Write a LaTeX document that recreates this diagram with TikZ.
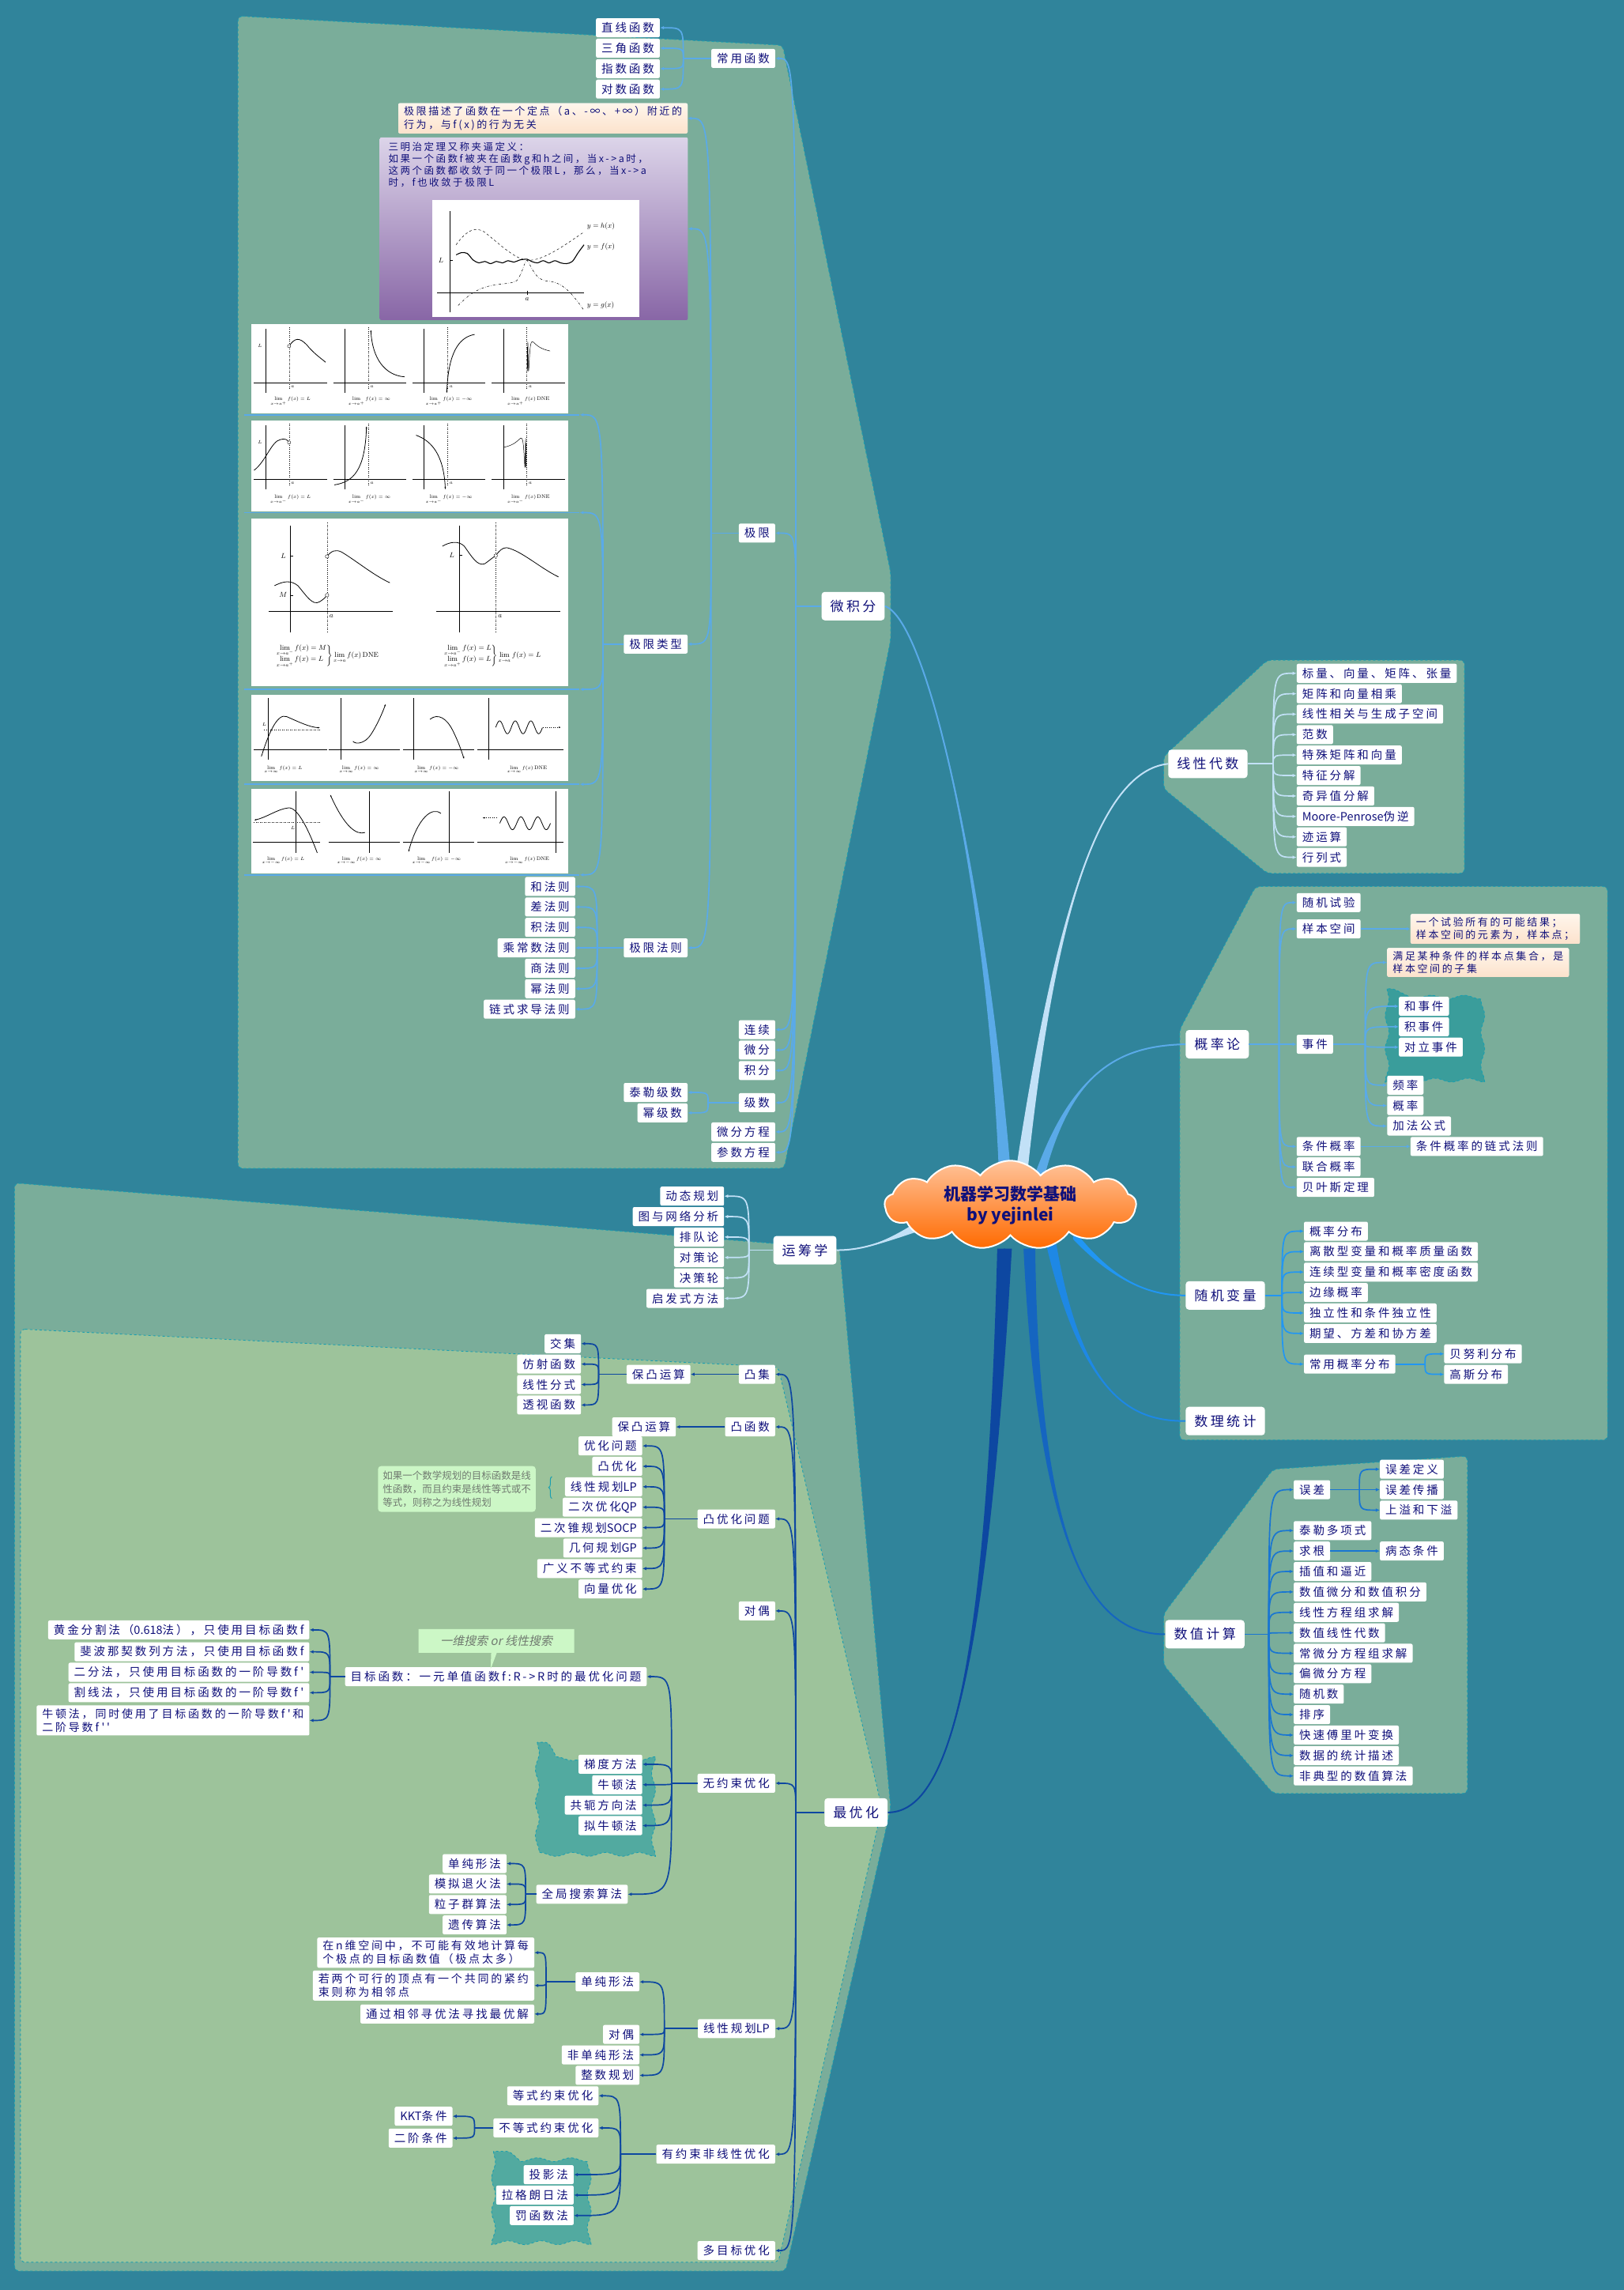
\documentclass[tikz,border=0pt]{standalone}
\usepackage{fontspec}
\usepackage{amsmath}
\usetikzlibrary{arrows.meta,calc,shapes.symbols,shapes.callouts,decorations.pathmorphing,decorations.pathreplacing}
\newfontfamily\cjk[LetterSpace=20]{Noto Sans CJK SC}
\newfontfamily\cjkplain{Noto Sans CJK SC}
\newfontfamily\cjkslant[FakeSlant=0.2]{Noto Sans CJK SC}

\definecolor{sea}{HTML}{30849B}
\definecolor{sage}{HTML}{7AAD9A}
\definecolor{mint}{HTML}{9DC39B}
\definecolor{rim}{HTML}{1A9FB0}
\definecolor{ink}{HTML}{10107A}
\definecolor{sky}{HTML}{5AAAE8}
\definecolor{ice}{HTML}{C2E1F7}
\definecolor{azure}{HTML}{2196F3}
\definecolor{statblue}{HTML}{1E88E5}
\definecolor{royal}{HTML}{1976D2}
\definecolor{cobalt}{HTML}{1565C0}
\definecolor{navy2}{HTML}{0D47A1}
\definecolor{blobteal}{HTML}{52AAA0}
\definecolor{blobdark}{HTML}{3A9D9B}
\definecolor{peachtop}{HTML}{FFF6EC}
\definecolor{peach}{HTML}{FCE2CC}
\definecolor{lilac}{HTML}{DCD4E9}
\definecolor{plum}{HTML}{8866A6}
\definecolor{lime}{HTML}{CCF7C6}
\definecolor{hintgray}{HTML}{707A70}
\definecolor{cloudtop}{HTML}{FFC39A}
\definecolor{cloudbot}{HTML}{FF6A00}

\pgfdeclarelayer{panel}
\pgfdeclarelayer{links}
\pgfsetlayers{panel,links,main}

\tikzset{
  topic/.style={fill=white, rounded corners=2pt, text=ink, inner xsep=7pt, inner ysep=1pt,
    minimum height=24pt, font=\cjk\fontsize{14.5}{16}\selectfont},
  major/.style={topic, minimum height=36pt, inner xsep=11pt, rounded corners=4pt,
    font=\cjk\fontsize{17}{19}\selectfont},
  memo/.style={topic, align=left, top color=peachtop, bottom color=peach, inner ysep=4pt,
    font=\cjk\fontsize{13}{16.5}\selectfont},
  para/.style={topic, align=left, inner ysep=4pt, font=\cjk\fontsize{14}{17}\selectfont},
  hint/.style={fill=lime, rounded corners=4pt, text=hintgray, align=left, inner sep=6pt,
    font=\cjkplain\fontsize{12.5}{17}\selectfont},
  area/.style={draw=rim, dashed, line width=0.9pt, rounded corners=6pt},
  blob/.style={fill=#1, draw=rim, dashed, line width=0.9pt, decorate,
    decoration={snake, amplitude=2.5pt, segment length=42pt}},
  headed/.style={-{Latex[length=5pt,width=4.5pt]}},
  wire/.style={draw=#1, line width=1.7pt},
  ax/.style={line width=0.5pt},
  crv/.style={line width=0.8pt},
  dots/.style={dotted, line width=0.5pt},
  limtxt/.style={font=\fontsize{6.5}{7}\selectfont, inner sep=0pt},
}

% parent -> fork -> children
\newcommand\fan[4]{%
  \draw[wire=#1] (#2) -- (#3);
  \foreach \kid in {#4}{%
    \path (\kid) coordinate (kid);
    \draw[wire=#1, headed] (#3) .. controls (#3 |- kid) .. (kid);
  }}
% tapered main branch
\newcommand\bough[6]{%
  \fill[#1] ($(#2)+(#6)$) .. controls (#3) and (#4) .. (#5) .. controls (#4) and (#3) .. ($(#2)-(#6)$) -- cycle;
  \draw[#1, line width=2pt] (#2) .. controls (#3) and (#4) .. (#5);}

\begin{document}
\begin{tikzpicture}[x=1.847pt, y=-1.847pt]
\useasboundingbox (0,0) rectangle (1112,1568);

\begin{pgfonlayer}{panel}
  \fill[sea] (0,0) rectangle (1112,1568);
  % calculus
  \filldraw[area, fill=sage] (163,11) -- (536,31) -- (610,392) -- (610,438) -- (537,800) -- (163,800) -- cycle;
  % linear algebra
  \filldraw[area, fill=sage] (797,518) -- (868,452) -- (1003,452) -- (1003,598) -- (868,598) -- (797,540) -- cycle;
  % probability
  \filldraw[area, fill=sage] (808,705) -- (860,607) -- (1101,607) -- (1101,986) -- (808,986) -- cycle;
  % numerical
  \filldraw[area, fill=sage] (797,1105) -- (872,1006) -- (1005,997) -- (1005,1228) -- (872,1228) -- (797,1140) -- cycle;
  % operations research + optimisation
  \filldraw[area, fill=sage] (10,810) -- (575,855) -- (610,1238) -- (538,1555) -- (10,1555) -- cycle;
  \filldraw[area, fill=mint] (14,910) -- (533,936) -- (604,1238) -- (533,1549) -- (14,1549) -- cycle;
\end{pgfonlayer}

%% limit graphs
\begin{scope}[shift={(172,222)}]
  \fill[white] (0,0) rectangle (217,61);
  \foreach \o in {0,54.25,108.5,162.75}{
    \draw[ax] (\o+10,3) -- (\o+10,47);
    \draw[ax] (\o+2,40) -- (\o+52,40);
    \draw[dots] (\o+26,2) -- (\o+26,45);
    \node[limtxt] at (\o+28.5,43) {$a$};}
  \draw[crv] (26,15) .. controls (30,9) and (33,9) .. (38,14) .. controls (42,19) and (46,22) .. (51,26);
  \draw[fill=white, line width=0.4pt] (26,15) circle (1.1);
  \node[limtxt] at (6,15) {$L$};
  \draw[crv, -{Stealth[length=2.5pt]}] (105,36) .. controls (92,35) and (83,24) .. (82,4);
  \draw[crv, -{Stealth[length=2.5pt]}] (153,7) .. controls (142,9) and (135,20) .. (134,47);
  \draw[line width=0.5pt, domain=0.4:16, samples=220] plot ({188.75+\x}, {22-10*sin(deg(6/\x))});
  \node[limtxt] at (27,53) {$\lim\limits_{x\to a^+} f(x)=L$};
  \node[limtxt] at (81,53) {$\lim\limits_{x\to a^+} f(x)=\infty$};
  \node[limtxt] at (135.5,53) {$\lim\limits_{x\to a^+} f(x)=-\infty$};
  \node[limtxt] at (190,53) {$\lim\limits_{x\to a^+} f(x)\,\mathrm{DNE}$};
\end{scope}
\begin{scope}[shift={(172,288)}]
  \fill[white] (0,0) rectangle (217,62);
  \foreach \o in {0,54.25,108.5,162.75}{
    \draw[ax] (\o+10,3) -- (\o+10,47);
    \draw[ax] (\o+2,40) -- (\o+52,40);
    \draw[dots] (\o+26,2) -- (\o+26,45);
    \node[limtxt] at (\o+28.5,43) {$a$};}
  \draw[crv] (2,34) .. controls (10,28) and (14,14) .. (20,13) .. controls (23,12) and (25,13) .. (26,15);
  \draw[fill=white, line width=0.4pt] (26,15) circle (1.1);
  \node[limtxt] at (6,15) {$L$};
  \draw[crv, -{Stealth[length=2.5pt]}] (57,44) .. controls (70,42) and (78,34) .. (79,4);
  \draw[crv, -{Stealth[length=2.5pt]}] (113,10) .. controls (124,14) and (132,24) .. (133,47);
  \draw[line width=0.5pt, domain=0.4:16, samples=220] plot ({188.75-\x}, {22-10*sin(deg(6/\x))});
  \node[limtxt] at (27,54) {$\lim\limits_{x\to a^-} f(x)=L$};
  \node[limtxt] at (81,54) {$\lim\limits_{x\to a^-} f(x)=\infty$};
  \node[limtxt] at (135.5,54) {$\lim\limits_{x\to a^-} f(x)=-\infty$};
  \node[limtxt] at (190,54) {$\lim\limits_{x\to a^-} f(x)\,\mathrm{DNE}$};
\end{scope}
\begin{scope}[shift={(172,355)}]
  \fill[white] (0,0) rectangle (217,115);
  \draw[ax] (27,5) -- (27,78); \draw[ax] (12,63.75) -- (97,63.75); \draw[dots] (52,3) -- (52,78);
  \draw[ax] (27,25.75) -- (29,25.75); \draw[ax] (27,52.5) -- (29,52.5);
  \node[limtxt, font=\fontsize{9}{10}\selectfont] at (22,25.75) {$L$};
  \node[limtxt, font=\fontsize{9}{10}\selectfont] at (22,52.5) {$M$};
  \node[limtxt, font=\fontsize{9}{10}\selectfont] at (55,67) {$a$};
  \draw[crv] (52,26) .. controls (55,22) and (58,21) .. (62,23) .. controls (72,29) and (84,39) .. (95,44);
  \draw[crv] (16,46) .. controls (22,43) and (27,42) .. (32,46) .. controls (38,53) and (42,60) .. (47,57) .. controls (50,55) and (51,54) .. (52,52.5);
  \draw[fill=white, line width=0.4pt] (52,26) circle (1.2) (52,52.5) circle (1.2);
  \node[font=\fontsize{9}{10}\selectfont, inner sep=0pt] at (52,94) {$\left.\begin{array}{@{}l@{}}\lim\limits_{x\to a^-} f(x)=M\\[1pt]\lim\limits_{x\to a^+} f(x)=L\end{array}\right\}\lim\limits_{x\to a} f(x)\,\mathrm{DNE}$};
  \draw[ax] (142.5,5) -- (142.5,78); \draw[ax] (127,63.75) -- (212,63.75); \draw[dots] (167.5,3) -- (167.5,78);
  \draw[ax] (142.5,25) -- (144.5,25);
  \node[limtxt, font=\fontsize{9}{10}\selectfont] at (137.5,25) {$L$};
  \node[limtxt, font=\fontsize{9}{10}\selectfont] at (170.5,67) {$a$};
  \draw[crv] (131,19) .. controls (136,16) and (142,15) .. (146,19) .. controls (151,26) and (155,33) .. (160,31) .. controls (163,29) and (165,27) .. (167.5,25.5) .. controls (170,22) and (172,20) .. (175,20) .. controls (185,22) and (198,34) .. (210.5,40);
  \draw[fill=white, line width=0.4pt] (167.5,25.5) circle (1.2);
  \node[font=\fontsize{9}{10}\selectfont, inner sep=0pt] at (165,94) {$\left.\begin{array}{@{}l@{}}\lim\limits_{x\to a^-} f(x)=L\\[1pt]\lim\limits_{x\to a^+} f(x)=L\end{array}\right\}\lim\limits_{x\to a} f(x)=L$};
\end{scope}
\begin{scope}[shift={(172,476)}]
  \fill[white] (0,0) rectangle (217,59);
  \draw[ax] (11.4,2) -- (11.4,44); \draw[ax] (2,37.5) -- (52,37.5);
  \draw[dots] (9,23.5) -- (48,23.5);
  \node[limtxt] at (9,20) {$L$};
  \draw[crv, -{Stealth[length=2.5pt]}] (7,42) .. controls (12,26) and (18,12) .. (24.4,14.7) .. controls (32,18) and (40,22) .. (47,22.3);
  \draw[ax] (61.4,2) -- (61.4,44); \draw[ax] (53,37.5) -- (102,37.5);
  \draw[crv, -{Stealth[length=2.5pt]}] (69.7,31.6) .. controls (72,34) and (78,33) .. (82,27) .. controls (86,21) and (90,12) .. (92,6.3);
  \draw[ax] (111.4,2) -- (111.4,44); \draw[ax] (104,37.5) -- (153,37.5);
  \draw[crv, -{Stealth[length=2.5pt]}] (122.5,16.5) .. controls (128,12) and (134,16) .. (138,24) .. controls (142,32) and (144,38) .. (145.8,43.5);
  \draw[ax] (162.5,2) -- (162.5,44); \draw[ax] (155,37.5) -- (214,37.5);
  \draw[crv, domain=0:32, samples=80] plot ({167.5+\x}, {22-4.4*sin(\x*360/10.7)});
  \draw[dots, -{Stealth[length=2.5pt]}] (200,22) -- (212,22);
  \node[limtxt] at (22,51) {$\lim\limits_{x\to\infty} f(x)=L$};
  \node[limtxt] at (74,51) {$\lim\limits_{x\to\infty} f(x)=\infty$};
  \node[limtxt] at (127,51) {$\lim\limits_{x\to\infty} f(x)=-\infty$};
  \node[limtxt] at (189,51) {$\lim\limits_{x\to\infty} f(x)\,\mathrm{DNE}$};
\end{scope}
\begin{scope}[shift={(172,540)}]
  \fill[white] (0,0) rectangle (217,58);
  \draw[ax] (30.8,2) -- (30.8,44); \draw[ax] (1,36.4) -- (47,36.4);
  \draw[dots] (2,23) -- (47,23);
  \node[limtxt] at (28.6,27) {$L$};
  \draw[crv, -{Stealth[length=2.5pt]}] (45.3,44) .. controls (40,30) and (32,12) .. (25.3,13.2) .. controls (18,14) and (10,20) .. (2.2,21.5);
  \draw[ax] (80.8,2) -- (80.8,44); \draw[ax] (53,36.4) -- (102,36.4);
  \draw[crv, -{Stealth[length=2.5pt]}] (78,30) .. controls (72,32) and (64,26) .. (54.2,4.2);
  \draw[ax] (135.6,2) -- (135.6,44); \draw[ax] (104,36.4) -- (153,36.4);
  \draw[crv, -{Stealth[length=2.5pt]}] (130,17) .. controls (124,12) and (114,20) .. (107.8,43.2);
  \draw[ax] (208.6,2) -- (208.6,44); \draw[ax] (155,36.4) -- (214,36.4);
  \draw[crv, domain=0:34.7, samples=80] plot ({170.3+\x}, {23.7-4.4*sin(\x*360/11.57)});
  \draw[dots, -{Stealth[length=2.5pt]}] (168,20) -- (158.6,20);
  \node[limtxt] at (22,49.4) {$\lim\limits_{x\to-\infty} f(x)=L$};
  \node[limtxt] at (74,49.4) {$\lim\limits_{x\to-\infty} f(x)=\infty$};
  \node[limtxt] at (127,49.4) {$\lim\limits_{x\to-\infty} f(x)=-\infty$};
  \node[limtxt] at (189,49.4) {$\lim\limits_{x\to-\infty} f(x)\,\mathrm{DNE}$};
\end{scope}
\foreach \y/\n in {284/r1,351/r2,472/r3,537/r4,599/r5}{
  \draw[wire=sky] (167,\y) -- (397,\y);
  \coordinate (\n) at (397,\y);}

%% calculus
\node[major, anchor=east] (calc) at (606,415) {微积分};
\coordinate (kC) at (545,415);
\node[topic, anchor=east] (cfun) at (531,40) {常用函数};
\node[topic, anchor=east] (lim) at (531,365) {极限};
\node[topic, anchor=east] (cont) at (531,705) {连续};
\node[topic, anchor=east] (diff) at (531,719) {微分};
\node[topic, anchor=east] (integ) at (531,733) {积分};
\node[topic, anchor=east] (series) at (531,755) {级数};
\node[topic, anchor=east] (ode) at (531,775) {微分方程};
\node[topic, anchor=east] (param) at (531,789) {参数方程};

\coordinate (kF) at (468,40);
\node[topic, anchor=east] (fline) at (452,19) {直线函数};
\node[topic, anchor=east] (ftrig) at (452,33) {三角函数};
\node[topic, anchor=east] (fexp) at (452,47) {指数函数};
\node[topic, anchor=east] (flog) at (452,61) {对数函数};

\coordinate (kL) at (487,365);
\node[memo, anchor=east] (limdef) at (471,81) {极限描述了函数在一个定点（a、-∞、+∞）附近的\\行为，与f(x)的行为无关};
\node[anchor=north west, minimum width=389.7pt, minimum height=230.9pt, top color=lilac, bottom color=plum,
  rounded corners=2pt, inner sep=0pt] (squeeze) at (260,94) {};
\node[anchor=north west, text=ink, align=left, inner sep=0pt, font=\cjk\fontsize{12.5}{15}\selectfont] (sqtext) at (266,97.5)
  {三明治定理又称夹逼定义：\\如果一个函数f被夹在函数g和h之间，当x->a时，\\这两个函数都收敛于同一个极限L，那么，当x->a\\时，f也收敛于极限L};
\begin{scope}[shift={(296,137)}]
  \fill[white] (0,0) rectangle (142,80);
  \draw[ax] (12,7.6) -- (12,76.6); \draw[ax] (3.4,63.4) -- (104,63.4);
  \draw[ax] (65,62) -- (65,65); \draw[ax] (12,41.2) -- (14,41.2);
  \node[limtxt, font=\fontsize{9}{10}\selectfont] at (65,68) {$a$};
  \node[limtxt, font=\fontsize{9}{10}\selectfont] at (6,41.2) {$L$};
  \draw[dashed, line width=0.5pt] (16.4,30.6) .. controls (24,20) and (30,18) .. (36,22) .. controls (46,30) and (56,40) .. (65,41.2) .. controls (76,42) and (92,30) .. (104,21.8);
  \draw[line width=1.1pt] plot[smooth] coordinates {(16.4,37.5) (20,36) (24,36.5) (28,41) (32,43) (36,42) (40,43.5) (44,42) (48,43) (52,41.5) (56,42.5) (60,41) (65,40.5) (68,42) (72,43) (76,41.5) (80,43) (84,41.5) (88,43) (92,43.5) (96,42) (100,36) (104,30.6)};
  \draw[dash dot, line width=0.5pt] (17.8,72.2) .. controls (24,66) and (30,60) .. (43.6,58) .. controls (50,57) and (56,57) .. (58,55) .. controls (62,50) and (63,42) .. (65,41.2) .. controls (68,45) and (70,54) .. (78,55.4) .. controls (86,56) and (92,58) .. (104,75.6);
  \node[limtxt, font=\fontsize{9}{10}\selectfont, anchor=west] at (106,18) {$y=h(x)$};
  \node[limtxt, font=\fontsize{9}{10}\selectfont, anchor=west] at (106,32) {$y=f(x)$};
  \node[limtxt, font=\fontsize{9}{10}\selectfont, anchor=west] at (106,72) {$y=g(x)$};
\end{scope}
\node[topic, anchor=east] (ltype) at (471,441) {极限类型};
\node[topic, anchor=east] (lrule) at (471,649) {极限法则};
\coordinate (kT) at (413,441);
\coordinate (kR) at (409,649);
\node[topic, anchor=east] (ru1) at (394,607) {和法则};
\node[topic, anchor=east] (ru2) at (394,621) {差法则};
\node[topic, anchor=east] (ru3) at (394,635) {积法则};
\node[topic, anchor=east] (ru4) at (394,649) {乘常数法则};
\node[topic, anchor=east] (ru5) at (394,663) {商法则};
\node[topic, anchor=east] (ru6) at (394,677) {幂法则};
\node[topic, anchor=east] (ru7) at (394,691) {链式求导法则};
\coordinate (kS) at (485,755);
\node[topic, anchor=east] (taylor) at (471,748) {泰勒级数};
\node[topic, anchor=east] (power) at (471,762) {幂级数};

%% linear algebra
\node[major, anchor=west] (linalg) at (800,523) {线性代数};
\coordinate (kA) at (872,523);
\node[topic, anchor=west] (la1) at (888,461) {标量、向量、矩阵、张量};
\node[topic, anchor=west] (la2) at (888,475) {矩阵和向量相乘};
\node[topic, anchor=west] (la3) at (888,489) {线性相关与生成子空间};
\node[topic, anchor=west] (la4) at (888,503) {范数};
\node[topic, anchor=west] (la5) at (888,517) {特殊矩阵和向量};
\node[topic, anchor=west] (la6) at (888,531) {特征分解};
\node[topic, anchor=west] (la7) at (888,545) {奇异值分解};
\node[topic, anchor=west] (la8) at (888,559) {{\cjkplain Moore-Penrose}伪逆};
\node[topic, anchor=west] (la9) at (888,573) {迹运算};
\node[topic, anchor=west] (la10) at (888,587) {行列式};

%% probability
\node[major, anchor=west] (prob) at (812,715) {概率论};
\coordinate (kP) at (876,715);
\node[topic, anchor=west] (pr1) at (888,618) {随机试验};
\node[topic, anchor=west] (pr2) at (888,636) {样本空间};
\node[topic, anchor=west] (pr3) at (888,715) {事件};
\node[topic, anchor=west] (pr4) at (888,785) {条件概率};
\node[topic, anchor=west] (pr5) at (888,799) {联合概率};
\node[topic, anchor=west] (pr6) at (888,813) {贝叶斯定理};
\node[memo, anchor=west] (sdef) at (966,636) {一个试验所有的可能结果；\\样本空间的元素为，样本点；};
\coordinate (kE) at (935,715);
\path[blob=blobdark] (950,677) rectangle (1016,733);
\node[memo, anchor=west] (evdef) at (950,659) {满足某种条件的样本点集合，是\\样本空间的子集};
\node[topic, anchor=west] (ev1) at (958,689) {和事件};
\node[topic, anchor=west] (ev2) at (958,703) {积事件};
\node[topic, anchor=west] (ev3) at (958,717) {对立事件};
\node[topic, anchor=west] (ev4) at (950,743) {频率};
\node[topic, anchor=west] (ev5) at (950,757) {概率};
\node[topic, anchor=west] (ev6) at (950,771) {加法公式};
\node[topic, anchor=west] (chain) at (966,785) {条件概率的链式法则};

%% random variables
\node[major, anchor=west] (rv) at (812,887) {随机变量};
\coordinate (kV) at (878,887);
\node[topic, anchor=west] (rv1) at (893,843) {概率分布};
\node[topic, anchor=west] (rv2) at (893,857) {离散型变量和概率质量函数};
\node[topic, anchor=west] (rv3) at (893,871) {连续型变量和概率密度函数};
\node[topic, anchor=west] (rv4) at (893,885) {边缘概率};
\node[topic, anchor=west] (rv5) at (893,899) {独立性和条件独立性};
\node[topic, anchor=west] (rv6) at (893,913) {期望、方差和协方差};
\node[topic, anchor=west] (rv7) at (893,934) {常用概率分布};
\coordinate (kD) at (976,934);
\node[topic, anchor=west] (bern) at (989,927) {贝努利分布};
\node[topic, anchor=west] (gauss) at (989,941) {高斯分布};
\node[major, anchor=west] (stat) at (812,973) {数理统计};

%% numerical computation
\node[major, anchor=west] (numc) at (798,1119) {数值计算};
\coordinate (kN) at (869,1119);
\node[topic, anchor=west] (nu1) at (886,1020) {误差};
\node[topic, anchor=west] (nu2) at (886,1048) {泰勒多项式};
\node[topic, anchor=west] (nu3) at (886,1062) {求根};
\node[topic, anchor=west] (nu4) at (886,1076) {插值和逼近};
\node[topic, anchor=west] (nu5) at (886,1090) {数值微分和数值积分};
\node[topic, anchor=west] (nu6) at (886,1104) {线性方程组求解};
\node[topic, anchor=west] (nu7) at (886,1118) {数值线性代数};
\node[topic, anchor=west] (nu8) at (886,1132) {常微分方程组求解};
\node[topic, anchor=west] (nu9) at (886,1146) {偏微分方程};
\node[topic, anchor=west] (nu10) at (886,1160) {随机数};
\node[topic, anchor=west] (nu11) at (886,1174) {排序};
\node[topic, anchor=west] (nu12) at (886,1188) {快速傅里叶变换};
\node[topic, anchor=west] (nu13) at (886,1202) {数据的统计描述};
\node[topic, anchor=west] (nu14) at (886,1216) {非典型的数值算法};
\coordinate (kErr) at (931,1020);
\node[topic, anchor=west] (er1) at (945,1006) {误差定义};
\node[topic, anchor=west] (er2) at (945,1020) {误差传播};
\node[topic, anchor=west] (er3) at (945,1034) {上溢和下溢};
\node[topic, anchor=west] (illc) at (945,1062) {病态条件};

%% operations research
\node[major, anchor=east] (orsch) at (573,856) {运筹学};
\coordinate (kO) at (513,856);
\node[topic, anchor=east] (or1) at (496,819) {动态规划};
\node[topic, anchor=east] (or2) at (496,833) {图与网络分析};
\node[topic, anchor=east] (or3) at (496,847) {排队论};
\node[topic, anchor=east] (or4) at (496,861) {对策论};
\node[topic, anchor=east] (or5) at (496,875) {决策轮};
\node[topic, anchor=east] (or6) at (496,889) {启发式方法};

%% optimisation
\node[major, anchor=east] (optim) at (608,1241) {最优化};
\coordinate (kZ) at (545,1241);
\node[topic, anchor=east] (op1) at (531,941) {凸集};
\node[topic, anchor=east] (op2) at (531,977) {凸函数};
\node[topic, anchor=east] (op3) at (531,1040) {凸优化问题};
\node[topic, anchor=east] (op4) at (531,1103) {对偶};
\node[topic, anchor=east] (op5) at (531,1221) {无约束优化};
\node[topic, anchor=east] (op6) at (531,1389) {线性规划{\cjkplain LP}};
\node[topic, anchor=east] (op7) at (531,1475) {有约束非线性优化};
\node[topic, anchor=east] (op8) at (531,1541) {多目标优化};

\node[topic, anchor=east] (keep1) at (473,941) {保凸运算};
\coordinate (kK) at (410,941);
\node[topic, anchor=east] (cs1) at (398,920) {交集};
\node[topic, anchor=east] (cs2) at (398,934) {仿射函数};
\node[topic, anchor=east] (cs3) at (398,948) {线性分式};
\node[topic, anchor=east] (cs4) at (398,962) {透视函数};
\node[topic, anchor=east] (keep2) at (463,977) {保凸运算};

\coordinate (kQ) at (455,1040);
\node[topic, anchor=east] (cp1) at (440,990) {优化问题};
\node[topic, anchor=east] (cp2) at (440,1004) {凸优化};
\node[topic, anchor=east] (cp3) at (440,1018) {线性规划{\cjkplain LP}};
\node[topic, anchor=east] (cp4) at (440,1032) {二次优化{\cjkplain QP}};
\node[topic, anchor=east] (cp5) at (440,1046) {二次锥规划{\cjkplain SOCP}};
\node[topic, anchor=east] (cp6) at (440,1060) {几何规划{\cjkplain GP}};
\node[topic, anchor=east] (cp7) at (440,1074) {广义不等式约束};
\node[topic, anchor=east] (cp8) at (440,1088) {向量优化};
\node[hint, anchor=east] (lpnote) at (367,1019.5) {如果一个数学规划的目标函数是线\\性函数，而且约束是线性等式或不\\等式，则称之为线性规划};
\draw[draw=rim, line width=1pt, decorate, decoration={brace, amplitude=4pt}] (378,1026) -- (378,1011);

\coordinate (kU) at (460,1221);
\node[topic, anchor=east] (obj) at (443,1148) {目标函数：一元单值函数f:R->R时的最优化问题};
\coordinate (hintpt) at (336,1143);
\node[rectangle callout, callout absolute pointer={(hintpt)}, fill=lime, text=hintgray,
  font=\cjkslant\fontsize{15}{18}\selectfont, minimum width=197pt, minimum height=30pt] (search) at (340,1123.5) {一维搜索 or 线性搜索};
\path[blob=blobteal] (368,1193) rectangle (449,1263);
\node[topic, anchor=east] (un1) at (440,1208) {梯度方法};
\node[topic, anchor=east] (un2) at (440,1222) {牛顿法};
\node[topic, anchor=east] (un3) at (440,1236) {共轭方向法};
\node[topic, anchor=east] (un4) at (440,1250) {拟牛顿法};
\node[topic, anchor=east] (glob) at (430,1297) {全局搜索算法};

\coordinate (kY) at (226,1148);
\node[topic, anchor=east] (ls1) at (212,1116) {黄金分割法（{\cjkplain 0.618}法），只使用目标函数f};
\node[topic, anchor=east] (ls2) at (212,1131) {斐波那契数列方法，只使用目标函数f};
\node[topic, anchor=east] (ls3) at (212,1145) {二分法，只使用目标函数的一阶导数f'};
\node[topic, anchor=east] (ls4) at (212,1159) {割线法，只使用目标函数的一阶导数f'};
\node[para, anchor=east] (ls5) at (212,1178) {牛顿法，同时使用了目标函数的一阶导数f'和\\二阶导数f''};

\coordinate (kG) at (360,1297);
\node[topic, anchor=east] (gs1) at (347,1276) {单纯形法};
\node[topic, anchor=east] (gs2) at (347,1290) {模拟退火法};
\node[topic, anchor=east] (gs3) at (347,1304) {粒子群算法};
\node[topic, anchor=east] (gs4) at (347,1318) {遗传算法};

\coordinate (kLP) at (455,1389);
\node[topic, anchor=east] (lp1) at (438,1357) {单纯形法};
\node[topic, anchor=east] (lp2) at (438,1393) {对偶};
\node[topic, anchor=east] (lp3) at (438,1407) {非单纯形法};
\node[topic, anchor=east] (lp4) at (438,1421) {整数规划};
\coordinate (kSx) at (374,1357);
\node[para, anchor=east] (sx1) at (366,1337) {在n维空间中，不可能有效地计算每\\个极点的目标函数值（极点太多）};
\node[para, anchor=east] (sx2) at (366,1359.5) {若两个可行的顶点有一个共同的紧约\\束则称为相邻点};
\node[topic, anchor=east] (sx3) at (366,1379) {通过相邻寻优法寻找最优解};

\coordinate (kNL) at (425,1475);
\node[topic, anchor=east] (nl1) at (410,1435) {等式约束优化};
\node[topic, anchor=east] (nl2) at (410,1457) {不等式约束优化};
\path[blob=blobteal] (338,1473) rectangle (404,1532);
\node[topic, anchor=east] (nl3) at (393,1489) {投影法};
\node[topic, anchor=east] (nl4) at (393,1503) {拉格朗日法};
\node[topic, anchor=east] (nl5) at (393,1517) {罚函数法};
\coordinate (kI) at (325,1457);
\node[topic, anchor=east] (kkt) at (310,1449) {{\cjkplain KKT}条件};
\node[topic, anchor=east] (second) at (310,1464) {二阶条件};

%% centre
\node[cloud, cloud puffs=13, cloud puff arc=105, aspect=2.9, minimum width=318pt, minimum height=112pt,
  inner sep=0pt, draw=white, line width=2pt, top color=cloudtop, bottom color=cloudbot, align=center,
  text=ink, font=\cjkplain\bfseries\fontsize{21}{26}\selectfont] (hub) at (692,825) {机器学习数学基础\\by yejinlei};

%% connectors
\fan{sky}{calc.west}{kC}{cfun.east,lim.east,cont.east,diff.east,integ.east,series.east,ode.east,param.east}
\fan{sky}{cfun.west}{kF}{fline.east,ftrig.east,fexp.east,flog.east}
\fan{sky}{lim.west}{kL}{limdef.east,squeeze.east,ltype.east,lrule.east}
\fan{sky}{ltype.west}{kT}{r1,r2,r3,r4,r5}
\fan{sky}{lrule.west}{kR}{ru1.east,ru2.east,ru3.east,ru4.east,ru5.east,ru6.east,ru7.east}
\fan{sky}{series.west}{kS}{taylor.east,power.east}
\fan{ice}{linalg.east}{kA}{la1.west,la2.west,la3.west,la4.west,la5.west,la6.west,la7.west,la8.west,la9.west,la10.west}
\fan{sky}{prob.east}{kP}{pr1.west,pr2.west,pr3.west,pr4.west,pr5.west,pr6.west}
\draw[wire=sky, headed] (pr2.east) -- (sdef.west);
\fan{sky}{pr3.east}{kE}{evdef.west,ev1.west,ev2.west,ev3.west,ev4.west,ev5.west,ev6.west}
\draw[wire=sky, headed] (pr4.east) -- (chain.west);
\fan{azure}{rv.east}{kV}{rv1.west,rv2.west,rv3.west,rv4.west,rv5.west,rv6.west,rv7.west}
\fan{azure}{rv7.east}{kD}{bern.west,gauss.west}
\fan{royal}{numc.east}{kN}{nu1.west,nu2.west,nu3.west,nu4.west,nu5.west,nu6.west,nu7.west,nu8.west,nu9.west,nu10.west,nu11.west,nu12.west,nu13.west,nu14.west}
\fan{royal}{nu1.east}{kErr}{er1.west,er2.west,er3.west}
\draw[wire=royal, headed] (nu3.east) -- (illc.west);
\fan{ice}{orsch.west}{kO}{or1.east,or2.east,or3.east,or4.east,or5.east,or6.east}
\fan{navy2}{optim.west}{kZ}{op1.east,op2.east,op3.east,op4.east,op5.east,op6.east,op7.east,op8.east}
\draw[wire=navy2, headed] (op1.west) -- (keep1.east);
\fan{navy2}{keep1.west}{kK}{cs1.east,cs2.east,cs3.east,cs4.east}
\draw[wire=navy2, headed] (op2.west) -- (keep2.east);
\fan{navy2}{op3.west}{kQ}{cp1.east,cp2.east,cp3.east,cp4.east,cp5.east,cp6.east,cp7.east,cp8.east}
\fan{navy2}{op5.west}{kU}{obj.east,un1.east,un2.east,un3.east,un4.east,glob.east}
\fan{navy2}{obj.west}{kY}{ls1.east,ls2.east,ls3.east,ls4.east,ls5.east}
\fan{navy2}{glob.west}{kG}{gs1.east,gs2.east,gs3.east,gs4.east}
\fan{navy2}{op6.west}{kLP}{lp1.east,lp2.east,lp3.east,lp4.east}
\fan{navy2}{lp1.west}{kSx}{sx1.east,sx2.east,sx3.east}
\fan{navy2}{op7.west}{kNL}{nl1.east,nl2.east,nl3.east,nl4.east,nl5.east}
\fan{navy2}{nl2.west}{kI}{kkt.east,second.east}

\begin{pgfonlayer}{links}
  \bough{sky}{688,800}{676,610}{636,425}{calc.east}{4,0}
  \bough{ice}{700,800}{722,630}{752,528}{linalg.west}{4,0}
  \bough{sky}{712,805}{735,730}{770,716}{prob.west}{3.5,0}
  \bough{azure}{735,845}{765,880}{790,887}{rv.west}{0,3.5}
  \bough{statblue}{720,852}{742,960}{778,973}{stat.west}{3.5,0}
  \bough{cobalt}{705,855}{712,1080}{755,1119}{numc.west}{4,0}
  \bough{navy2}{688,855}{675,1170}{645,1241}{optim.east}{5,0}
  \bough{ice}{632,838}{608,850}{592,856}{orsch.east}{0,4}
\end{pgfonlayer}
\end{tikzpicture}
\end{document}
